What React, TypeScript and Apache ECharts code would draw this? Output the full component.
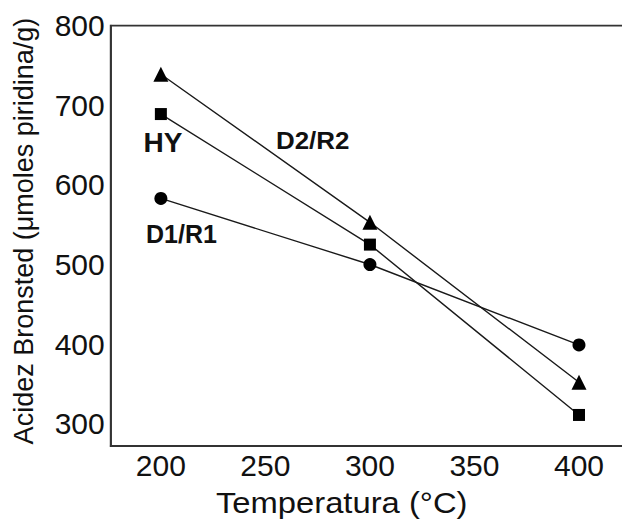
import React, { useEffect, useRef } from "react";
import * as echarts from "echarts";

const temperatures = [200, 300, 400];
const hyValues = [689, 525, 311];
const d2r2Values = [739, 553, 352];
const d1r1Values = [583, 500, 399];
const xTicks = [200, 250, 300, 350, 400];
const yTicks = [300, 400, 500, 600, 700, 800];

const FONT = '"Liberation Sans", Arial, Helvetica, sans-serif';
const INK = "#111";

function pairs(ys: number[]) {
  return temperatures.map((t, i) => [t, ys[i]]);
}

export default function App() {
  const ref = useRef<HTMLDivElement>(null);
  useEffect(() => {
    if (!ref.current) return;
    const chart = echarts.init(ref.current, null, { renderer: "svg" });
    const lineStyle = { color: "#1a1a1a", width: 1.4 };
    chart.setOption({
      animation: false,
      backgroundColor: "#fff",
      grid: {
        left: 110.7,
        top: 25.7,
        width: 531,
        height: 420.3,
        show: true,
        borderColor: "#333",
        borderWidth: 1.8,
        containLabel: false,
      },
      xAxis: {
        type: "value",
        min: 176,
        max: 430,
        splitLine: { show: false },
        axisLine: { show: true, lineStyle: { color: "#333", width: 1.8 } },
        axisTick: { show: false },
        axisLabel: {
          customValues: xTicks,
          color: INK,
          fontFamily: FONT,
          fontSize: 30,
          margin: 4,
        },
      },
      yAxis: {
        type: "value",
        min: 272,
        max: 800,
        splitLine: { show: false },
        axisLine: { show: true, lineStyle: { color: "#333", width: 1.8 } },
        axisTick: { show: false },
        axisLabel: {
          customValues: yTicks,
          color: INK,
          fontFamily: FONT,
          fontSize: 30,
          margin: 6,
        },
      },
      series: [
        {
          name: "HY",
          type: "line",
          data: pairs(hyValues),
          symbol: "rect",
          symbolSize: 12,
          itemStyle: { color: "#000" },
          lineStyle,
        },
        {
          name: "D2/R2",
          type: "line",
          data: pairs(d2r2Values),
          symbol: "triangle",
          symbolSize: 15,
          itemStyle: { color: "#000" },
          lineStyle,
        },
        {
          name: "D1/R1",
          type: "line",
          data: pairs(d1r1Values),
          symbol: "circle",
          symbolSize: 13,
          itemStyle: { color: "#000" },
          lineStyle,
        },
      ],
      graphic: [
        {
          type: "text",
          x: 341.7,
          y: 518,
          scaleX: 1.13,
          style: {
            text: "Temperatura (°C)",
            fill: INK,
            font: `29px ${FONT}`,
            align: "center",
            verticalAlign: "bottom",
          },
        },
        {
          type: "text",
          x: 24,
          y: 231,
          rotation: Math.PI / 2,
          style: {
            text: "Acidez Bronsted (μmoles piridina/g)",
            fill: INK,
            font: `27px ${FONT}`,
            align: "center",
            verticalAlign: "middle",
          },
        },
        {
          type: "text",
          x: 163,
          y: 156,
          style: {
            text: "HY",
            fill: INK,
            font: `bold 28px ${FONT}`,
            align: "center",
            verticalAlign: "bottom",
          },
        },
        {
          type: "text",
          x: 276,
          y: 152,
          scaleX: 1.08,
          style: {
            text: "D2/R2",
            fill: INK,
            font: `bold 24px ${FONT}`,
            align: "left",
            verticalAlign: "bottom",
          },
        },
        {
          type: "text",
          x: 146,
          y: 246,
          style: {
            text: "D1/R1",
            fill: INK,
            font: `bold 25px ${FONT}`,
            align: "left",
            verticalAlign: "bottom",
          },
        },
      ],
    });
    return () => chart.dispose();
  }, []);
  return (
    <div
      style={{
        position: "fixed",
        left: 0,
        top: 0,
        width: 622,
        height: 526,
        overflow: "hidden",
        background: "#fff",
      }}
    >
      <div ref={ref} style={{ width: 660, height: 526 }} />
    </div>
  );
}
